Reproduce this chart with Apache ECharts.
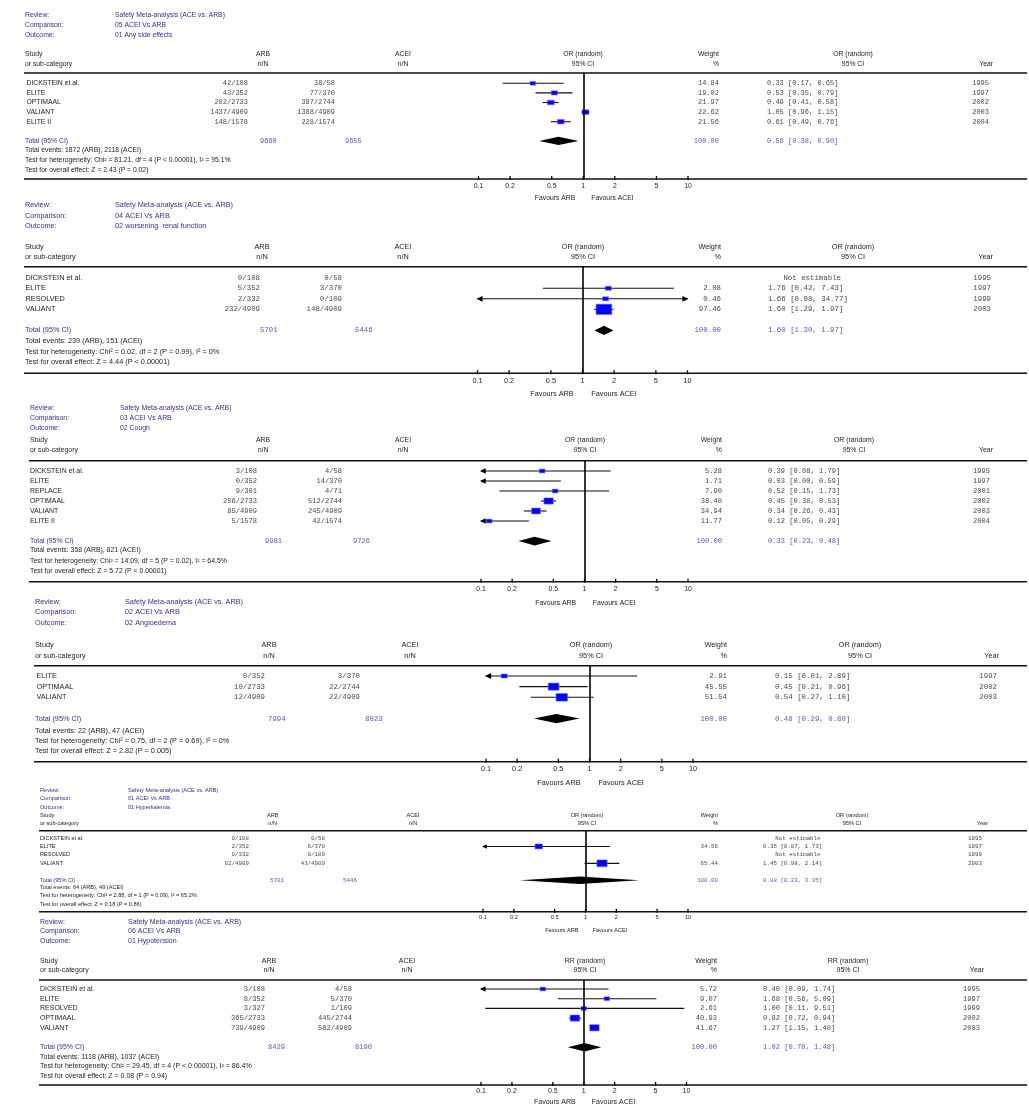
<!DOCTYPE html>
<html>
<head>
<meta charset="utf-8">
<script src="https://cdn.jsdelivr.net/npm/echarts@6/dist/echarts.min.js"></script>
<style>
html, body { margin: 0; background: #fff; }
#main { width: 1029px; height: 1105px; }
</style>
</head>
<body>
<div id="main"></div>
<script>
// 数据
var reviewName = 'Safety Meta-analysis (ACE vs. ARB)'
var comparisons = ['05 ACEI Vs ARB', '04 ACEI Vs ARB', '03 ACEI Vs ARB', '02 ACEI Vs ARB', '01 ACEI Vs ARB', '06 ACEI Vs ARB']
var outcomes = ['01 Any side effects', '02 worsening  renal function', '02 Cough', '02 Angioedema', '01 Hyperkalemia', '01 Hypotension']
var effectLabel = ['OR', 'OR', 'OR', 'OR', 'OR', 'RR']
var studies = [
    ['DICKSTEIN et al.', 'ELITE', 'OPTIMAAL', 'VALIANT', 'ELITE II'],
    ['DICKSTEIN et al.', 'ELITE', 'RESOLVED', 'VALIANT'],
    ['DICKSTEIN et al.', 'ELITE', 'REPLACE', 'OPTIMAAL', 'VALIANT', 'ELITE II'],
    ['ELITE', 'OPTIMAAL', 'VALIANT'],
    ['DICKSTEIN et al.', 'ELITE', 'RESOLVED', 'VALIANT'],
    ['DICKSTEIN et al.', 'ELITE', 'RESOLVED', 'OPTIMAAL', 'VALIANT']
]
var arbNN = [
    ['42/108', '43/352', '202/2733', '1437/4909', '148/1578'],
    ['0/108', '5/352', '2/332', '232/4909'],
    ['3/108', '0/352', '9/301', '256/2733', '85/4909', '5/1578'],
    ['0/352', '10/2733', '12/4909'],
    ['0/108', '2/352', '0/332', '62/4909'],
    ['3/108', '8/352', '3/327', '365/2733', '739/4909']
]
var aceiNN = [
    ['38/58', '77/370', '387/2744', '1388/4909', '228/1574'],
    ['0/58', '3/370', '0/109', '148/4909'],
    ['4/58', '14/370', '4/71', '512/2744', '245/4909', '42/1574'],
    ['3/370', '22/2744', '22/4909'],
    ['0/58', '6/370', '0/109', '43/4909'],
    ['4/58', '5/370', '1/109', '445/2744', '582/4909']
]
var weights = [
    [14.84, 19.02, 21.97, 22.62, 21.56],
    [null, 2.08, 0.46, 97.46],
    [5.28, 1.71, 7.90, 38.40, 34.94, 11.77],
    [2.91, 45.55, 51.54],
    [null, 34.56, null, 65.44],
    [5.72, 9.07, 2.61, 40.93, 41.67]
]
var estimates = [
    [0.33, 0.53, 0.49, 1.05, 0.61],
    [null, 1.76, 1.66, 1.60],
    [0.39, 0.03, 0.52, 0.45, 0.34, 0.12],
    [0.15, 0.45, 0.54],
    [null, 0.35, null, 1.45],
    [0.40, 1.68, 1.00, 0.82, 1.27]
]
var lower = [
    [0.17, 0.35, 0.41, 0.96, 0.49],
    [null, 0.42, 0.08, 1.29],
    [0.08, 0.00, 0.15, 0.38, 0.26, 0.05],
    [0.01, 0.21, 0.27],
    [null, 0.07, null, 0.98],
    [0.09, 0.56, 0.11, 0.72, 1.15]
]
var upper = [
    [0.65, 0.79, 0.58, 1.15, 0.76],
    [null, 7.43, 34.77, 1.97],
    [1.79, 0.59, 1.73, 0.53, 0.43, 0.29],
    [2.89, 0.96, 1.10],
    [null, 1.73, null, 2.14],
    [1.74, 5.09, 9.51, 0.94, 1.40]
]
var years = [
    [1995, 1997, 2002, 2003, 2004],
    [1995, 1997, 1999, 2003],
    [1995, 1997, 2001, 2002, 2003, 2004],
    [1997, 2002, 2003],
    [1995, 1997, 1999, 2003],
    [1995, 1997, 1999, 2002, 2003]
]
var totalN = [[9680, 9655], [5701, 5446], [9981, 9726], [7994, 8023], [5701, 5446], [8429, 8190]]
var pooled = [[0.58, 0.38, 0.90], [1.60, 1.30, 1.97], [0.33, 0.23, 0.48], [0.48, 0.29, 0.80], [0.88, 0.23, 3.35], [1.02, 0.70, 1.48]]
var totalEvents = [[1872, 2118], [239, 151], [358, 821], [22, 47], [64, 49], [1118, 1037]]
var heterogeneity = [
    'Chi² = 81.21, df = 4 (P < 0.00001), I² = 95.1%',
    'Chi² = 0.02, df = 2 (P = 0.99), I² = 0%',
    'Chi² = 14.09, df = 5 (P = 0.02), I² = 64.5%',
    'Chi² = 0.75, df = 2 (P = 0.69), I² = 0%',
    'Chi² = 2.88, df = 1 (P = 0.09), I² = 65.2%',
    'Chi² = 29.45, df = 4 (P < 0.00001), I² = 86.4%'
]
var overallEffect = ['Z = 2.43 (P = 0.02)', 'Z = 4.44 (P < 0.00001)', 'Z = 5.72 (P < 0.00001)', 'Z = 2.82 (P = 0.005)', 'Z = 0.18 (P = 0.86)', 'Z = 0.08 (P = 0.94)']
var tickValues = [0.1, 0.2, 0.5, 1, 2, 5, 10]

// 版面 (每个面板的位置, 像素)
var layout = [
    {fs: 6.8, ms: 7.0, rev: [15, 25, 35], head: [54, 64], rule: 73, row0: 83.3, step: 9.6, info: [150, 160, 170], axis: 179, lab: 7, fav: 198,
     xl: 25, xv: 115, xn: 26.5, arbC: 263, aceiC: 403, arbR: 248, aceiR: 335, totA: 260, totB: 345, x01: 478.5, x10: 688, orC: 583, wR: 719, ciL: 767, or2C: 853, yearHR: 993, yearR: 989},
    {fs: 7.3, ms: 7.4, rev: [205, 215.5, 226], head: [246.7, 256.7], rule: 266.7, row0: 277.7, step: 10.55, info: [341, 351.7, 361.7], axis: 373.3, lab: 8, fav: 394.3,
     xl: 25, xv: 115, xn: 25.5, arbC: 262, aceiC: 403, arbR: 260, aceiR: 342, totA: 260, totB: 355, x01: 477.5, x10: 687.5, orC: 583, wR: 721, ciL: 768, or2C: 853, yearHR: 993, yearR: 991},
    {fs: 6.9, ms: 7.1, rev: [408, 418, 428.5], head: [440, 450], rule: 460.7, row0: 471, step: 10, info: [550, 561, 571.5], axis: 581.7, lab: 7, fav: 603,
     xl: 30, xv: 120, xn: 30, arbC: 263, aceiC: 403, arbR: 257, aceiR: 342, totA: 265, totB: 353, x01: 481, x10: 688, orC: 585, wR: 722, ciL: 768, or2C: 854, yearHR: 993, yearR: 990},
    {fs: 7.3, ms: 7.4, rev: [601.7, 612.3, 622.7], head: [644.5, 655.5], rule: 665.8, row0: 676, step: 10.65, info: [730.7, 741, 751.3], axis: 761.7, lab: 7, fav: 783,
     xl: 35, xv: 125, xn: 36.5, arbC: 269, aceiC: 410, arbR: 265, aceiR: 360, totA: 268, totB: 365, x01: 486, x10: 693, orC: 591, wR: 727, ciL: 775, or2C: 860, yearHR: 999, yearR: 997},
    {fs: 5.6, ms: 5.8, rev: [790, 798.5, 807], head: [815, 823], rule: 830.7, row0: 838, step: 8.45, info: [887, 895.7, 904], axis: 911.8, lab: 6, fav: 930,
     xl: 40, xv: 128, xn: 40, arbC: 272.7, aceiC: 413, arbR: 249, aceiR: 325, totA: 270, totB: 343, x01: 483, x10: 688, orC: 587, wR: 718, ciL: 763, or2C: 852, yearHR: 988, yearR: 982},
    {fs: 7.0, ms: 7.1, rev: [922.3, 931, 941], head: [960.7, 970], rule: 980, row0: 989, step: 9.7, info: [1056.7, 1066.3, 1076], axis: 1085, lab: 6, fav: 1102,
     xl: 40, xv: 128, xn: 40, arbC: 269, aceiC: 407, arbR: 265, aceiR: 352, totA: 268, totB: 355, x01: 481, x10: 686.5, orC: 585, wR: 717, ciL: 763, or2C: 848, yearHR: 984, yearR: 980}
]

var FONT = 'Liberation Sans'
var MONO = 'Liberation Mono'
var BLUE = '#30309a'
var LBLUE = '#5858cc'
var INK = '#1c1c1c'
var GREY = '#4a4a4a'
var RIGHT = 1027

var grids = [], xAxes = [], yAxes = [], series = [], graphics = []

function txt(x, y, s, size, o) {
    o = o || {}
    graphics.push({
        type: 'text', x: x, y: y, silent: true,
        style: {
            text: s, fill: o.fill || INK, fontSize: size, fontFamily: o.mono ? MONO : FONT,
            textAlign: o.align || 'left', align: o.align || 'left',
            textVerticalAlign: 'middle', verticalAlign: 'middle'
        }
    })
}
function hline(x1, x2, y, w) {
    graphics.push({type: 'line', silent: true, shape: {x1: x1, y1: y, x2: x2, y2: y}, style: {stroke: '#111', lineWidth: w || 1.5}})
}
function fmt(v) { return v.toFixed(2) }

// 森林图标记
function forestRenderer(L) {
    var sc = L.step / 9.6
    return function (params, api) {
        var est = api.value(0), lo = api.value(1), hi = api.value(2), row = api.value(3), w = api.value(4), kind = api.value(5)
        var y = api.coord([1, row])[1]
        var xa = api.coord([Math.max(lo, 0.1), row])[0]
        var xb = api.coord([Math.min(hi, 10), row])[0]
        var xe = api.coord([est, row])[0]
        var kids = []
        if (kind === 1) {
            var dh = 4.2 * sc
            kids.push({type: 'polygon', shape: {points: [[xa, y], [xe, y - dh], [xb, y], [xe, y + dh]]}, style: {fill: '#000'}})
            return {type: 'group', children: kids}
        }
        kids.push({type: 'line', shape: {x1: xa, y1: y, x2: xb, y2: y}, style: {stroke: '#111', lineWidth: 1.1}})
        var ah = 5.5 * sc, aw = 2.6 * sc
        if (lo < 0.1) {
            kids.push({type: 'polygon', shape: {points: [[xa - 1, y], [xa - 1 + ah, y - aw], [xa - 1 + ah, y + aw]]}, style: {fill: '#000'}})
        }
        if (hi > 10) {
            kids.push({type: 'polygon', shape: {points: [[xb + 1, y], [xb + 1 - ah, y - aw], [xb + 1 - ah, y + aw]]}, style: {fill: '#000'}})
        }
        if (est >= 0.1 && est <= 10) {
            var bw = Math.max(5.5, 1.45 * Math.sqrt(w)) * sc, bh = bw * 0.66
            kids.push({type: 'rect', shape: {x: xe - bw / 2, y: y - bh / 2, width: bw, height: bh},
                style: {fill: '#0000ff', stroke: '#7272ff', lineWidth: 0.6}})
        }
        return {type: 'group', children: kids}
    }
}

// 刻度
function tickRenderer(L, yMax) {
    return function (params, api) {
        var v = api.value(0)
        var p = api.coord([v, yMax])
        return {
            type: 'group', children: [
                {type: 'line', shape: {x1: p[0], y1: p[1] - 3, x2: p[0], y2: p[1] + 1}, style: {stroke: '#000', lineWidth: 1.3}},
                {type: 'text', x: p[0], y: p[1] + L.lab, style: {text: String(v), fill: INK, fontSize: L.fs, fontFamily: FONT,
                    textAlign: 'center', align: 'center', textVerticalAlign: 'middle', verticalAlign: 'middle'}}
            ]
        }
    }
}

layout.forEach(function (L, p) {
    var n = studies[p].length
    var sc = L.step / 9.6
    var rowY = function (i) { return L.row0 + i * L.step }
    var x1 = (L.x01 + L.x10) / 2

    // 标题
    txt(L.xl, L.rev[0], 'Review:', L.fs, {fill: BLUE})
    txt(L.xl, L.rev[1], 'Comparison:', L.fs, {fill: BLUE})
    txt(L.xl, L.rev[2], 'Outcome:', L.fs, {fill: BLUE})
    txt(L.xv, L.rev[0], reviewName, L.fs, {fill: BLUE})
    txt(L.xv, L.rev[1], comparisons[p], L.fs, {fill: BLUE})
    txt(L.xv, L.rev[2], outcomes[p], L.fs, {fill: BLUE})

    // 表头
    txt(L.xl, L.head[0], 'Study', L.fs)
    txt(L.xl, L.head[1], 'or sub-category', L.fs)
    txt(L.arbC, L.head[0], 'ARB', L.fs, {align: 'center'})
    txt(L.arbC, L.head[1], 'n/N', L.fs, {align: 'center'})
    txt(L.aceiC, L.head[0], 'ACEI', L.fs, {align: 'center'})
    txt(L.aceiC, L.head[1], 'n/N', L.fs, {align: 'center'})
    txt(L.orC, L.head[0], effectLabel[p] + ' (random)', L.fs, {align: 'center'})
    txt(L.orC, L.head[1], '95% CI', L.fs, {align: 'center'})
    txt(L.wR, L.head[0], 'Weight', L.fs, {align: 'right'})
    txt(L.wR, L.head[1], '%', L.fs, {align: 'right'})
    txt(L.or2C, L.head[0], effectLabel[p] + ' (random)', L.fs, {align: 'center'})
    txt(L.or2C, L.head[1], '95% CI', L.fs, {align: 'center'})
    txt(L.yearHR, L.head[1], 'Year', L.fs, {align: 'right'})
    hline(L.xl - 1, RIGHT, L.rule, 1.5)

    // 研究行
    studies[p].forEach(function (s, i) {
        var y = rowY(i)
        txt(L.xn, y, s, L.fs)
        txt(L.arbR, y, arbNN[p][i], L.ms, {mono: true, fill: GREY, align: 'right'})
        txt(L.aceiR, y, aceiNN[p][i], L.ms, {mono: true, fill: GREY, align: 'right'})
        if (estimates[p][i] === null) {
            txt(L.ciL + 14 * sc, y, 'Not estimable', L.ms, {mono: true, fill: GREY})
        } else {
            txt(L.wR, y, fmt(weights[p][i]), L.ms, {mono: true, fill: GREY, align: 'right'})
            txt(L.ciL, y, fmt(estimates[p][i]) + ' [' + fmt(lower[p][i]) + ', ' + fmt(upper[p][i]) + ']', L.ms, {mono: true, fill: GREY})
        }
        txt(L.yearR, y, String(years[p][i]), L.ms, {mono: true, fill: GREY, align: 'right'})
    })

    // 合计
    var ty = rowY(n + 1)
    txt(L.xl, ty, 'Total (95% CI)', L.fs, {fill: BLUE})
    txt(L.totA, ty, String(totalN[p][0]), L.ms, {mono: true, fill: LBLUE})
    txt(L.totB, ty, String(totalN[p][1]), L.ms, {mono: true, fill: LBLUE})
    txt(L.wR, ty, '100.00', L.ms, {mono: true, fill: LBLUE, align: 'right'})
    txt(L.ciL, ty, fmt(pooled[p][0]) + ' [' + fmt(pooled[p][1]) + ', ' + fmt(pooled[p][2]) + ']', L.ms, {mono: true, fill: LBLUE})
    txt(L.xl, L.info[0], 'Total events: ' + totalEvents[p][0] + ' (ARB), ' + totalEvents[p][1] + ' (ACEI)', L.fs)
    txt(L.xl, L.info[1], 'Test for heterogeneity: ' + heterogeneity[p], L.fs)
    txt(L.xl, L.info[2], 'Test for overall effect: ' + overallEffect[p], L.fs)

    // 坐标轴
    hline(L.xl - 1, RIGHT, L.axis, 1.5)
    txt(x1 - 8 * sc, L.fav, 'Favours ARB', L.fs, {align: 'right'})
    txt(x1 + 8 * sc, L.fav, 'Favours ACEI', L.fs)

    var yMin = (L.rule - L.row0) / L.step
    var yMax = (L.axis - L.row0) / L.step
    grids.push({left: L.x01, width: L.x10 - L.x01, top: L.rule, height: L.axis - L.rule})
    xAxes.push({gridIndex: p, type: 'log', logBase: 10, min: 0.1, max: 10, show: false})
    yAxes.push({gridIndex: p, type: 'value', inverse: true, min: yMin, max: yMax, show: false})

    var rows = []
    studies[p].forEach(function (s, i) {
        if (estimates[p][i] !== null) {
            rows.push([estimates[p][i], lower[p][i], upper[p][i], i, weights[p][i], 0])
        }
    })
    rows.push([pooled[p][0], pooled[p][1], pooled[p][2], n + 1, 100, 1])

    series.push({
        type: 'custom',
        xAxisIndex: p, yAxisIndex: p,
        clip: false,
        silent: true,
        encode: {x: 0, y: 3},
        renderItem: forestRenderer(L),
        data: rows,
        markLine: {
            silent: true,
            symbol: ['none', 'none'],
            label: {show: false},
            lineStyle: {color: '#000', width: 1.6, type: 'solid'},
            data: [{xAxis: 1}]
        }
    })
    series.push({
        type: 'custom',
        xAxisIndex: p, yAxisIndex: p,
        clip: false,
        silent: true,
        encode: {x: 0, y: 1},
        renderItem: tickRenderer(L, yMax),
        data: tickValues.map(function (v) { return [v, yMax] })
    })
})

var option = {
    animation: false,
    backgroundColor: '#fff',
    grid: grids,
    xAxis: xAxes,
    yAxis: yAxes,
    series: series,
    graphic: {elements: graphics}
}
var chart = echarts.init(document.getElementById('main'))
chart.setOption(option)
</script>
</body>
</html>
